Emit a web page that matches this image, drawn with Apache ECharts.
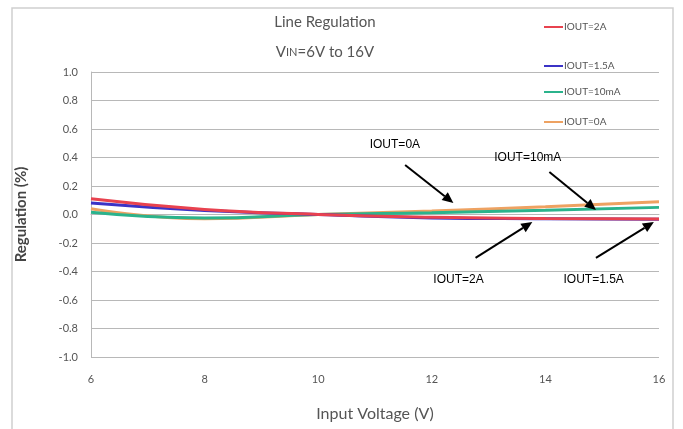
<!DOCTYPE html>
<html>
<head>
<meta charset="utf-8">
<script src="https://cdn.jsdelivr.net/npm/echarts@6/dist/echarts.min.js"></script>
<style>
  html, body { margin: 0; padding: 0; background: #fff; }
  #chart { width: 683px; height: 429px; }
</style>
</head>
<body>
<div id="chart"></div>
<script>
// input voltage (V) and regulation (%)
const vin = [6, 8, 10, 12, 14, 16];
const reg2A = [0.11, 0.035, 0.0, -0.02, -0.028, -0.032];
const reg1p5A = [0.08, 0.028, 0.0, -0.024, -0.03, -0.034];
const reg10mA = [0.015, -0.025, 0.0, 0.012, 0.03, 0.05];
const reg0A = [0.04, -0.03, 0.0, 0.025, 0.055, 0.09];

const seriesNames = ['IOUT=2A', 'IOUT=1.5A', 'IOUT=10mA', 'IOUT=0A'];
const seriesColors = ['#e8424f', '#3b33c6', '#2bb38c', '#eea262'];
const legendTops = [17, 56, 82, 112];

// callouts: text position and arrow (from -> to) in data coordinates
const notes = [
  { text: 'IOUT=0A', at: [11.35, 0.49], from: [11.53, 0.347], to: [12.38, 0.081] },
  { text: 'IOUT=10mA', at: [13.69, 0.40], from: [14.07, 0.298], to: [14.89, 0.032] },
  { text: 'IOUT=2A', at: [12.47, -0.46], from: [12.77, -0.305], to: [13.77, -0.053] },
  { text: 'IOUT=1.5A', at: [14.85, -0.46], from: [14.89, -0.305], to: [15.91, -0.053] }
];

const pair = (xs, ys) => xs.map((x, i) => [x, ys[i]]);
const allValues = [reg2A, reg1p5A, reg10mA, reg0A];

const chart = echarts.init(document.getElementById('chart'));
const grey = '#555';
const font = 'Lato, "Open Sans", sans-serif';

chart.setOption({
  animation: false,
  title: {
    text: 'Line Regulation\n{n|V}{s|IN}{n|=6V to 16V}',
    left: 320,
    top: 2,
    textAlign: 'center',
    textStyle: {
      fontFamily: font, fontSize: 15, fontWeight: 'normal', color: grey, lineHeight: 30,
      rich: {
        n: { fontFamily: font, fontSize: 15, color: grey },
        s: { fontFamily: font, fontSize: 11, color: grey }
      }
    }
  },
  legend: seriesNames.map((name, i) => ({
    data: [name],
    left: 539,
    top: legendTops[i],
    icon: 'rect',
    itemWidth: 19,
    itemHeight: 2,
    itemGap: 0,
    textStyle: { fontFamily: font, fontSize: 10, color: grey, padding: [0, 0, 0, -4] }
  })),
  grid: { left: 91, right: 24, top: 72, bottom: 72, outerBoundsMode: 'none' },
  xAxis: {
    type: 'value',
    min: 6, max: 16, interval: 2,
    name: 'Input Voltage (V)',
    nameLocation: 'middle',
    nameGap: 49,
    nameTextStyle: { fontFamily: font, fontSize: 16, color: grey },
    axisLine: { show: true, lineStyle: { color: '#b8b8b8' } },
    axisTick: { show: false },
    splitLine: { show: false },
    axisLabel: { fontFamily: font, fontSize: 11, color: grey, margin: 17 }
  },
  yAxis: {
    type: 'value',
    min: -1, max: 1, interval: 0.2,
    name: 'Regulation (%)',
    nameLocation: 'middle',
    nameGap: 62,
    nameTextStyle: { fontFamily: font, fontSize: 15, fontWeight: 'bold', color: '#444' },
    axisLine: { show: true, lineStyle: { color: '#b8b8b8' } },
    axisTick: { show: false },
    splitLine: { lineStyle: { color: '#b8b8b8', width: 1 } },
    axisLabel: { fontFamily: font, fontSize: 11, color: grey, margin: 13, formatter: v => v.toFixed(1) }
  },
  series: seriesNames.map((name, i) => ({
    name: name,
    type: 'line',
    data: pair(vin, allValues[i]),
    smooth: true,
    symbol: 'none',
    color: seriesColors[i],
    lineStyle: { width: 3, color: seriesColors[i] },
    z: 10 - i
  }))
});

// frame plus callout arrows and labels, placed through the chart's own scales
const px = p => chart.convertToPixel({ gridIndex: 0 }, p);
const graphics = [{
  type: 'rect',
  shape: { x: 12, y: 8, width: 661, height: 440 },
  style: { fill: 'none', stroke: '#cfcfcf', lineWidth: 1.5 },
  silent: true
}];
notes.forEach(n => {
  const a = px(n.from), b = px(n.to), t = px(n.at);
  const ang = Math.atan2(b[1] - a[1], b[0] - a[0]);
  const L = 11, W = 5;
  const bx = b[0] - L * Math.cos(ang), by = b[1] - L * Math.sin(ang);
  graphics.push({
    type: 'line',
    shape: { x1: a[0], y1: a[1], x2: bx, y2: by },
    style: { stroke: '#000', lineWidth: 2 },
    z: 20
  });
  graphics.push({
    type: 'polygon',
    shape: { points: [
      [b[0], b[1]],
      [bx + W * Math.sin(ang), by - W * Math.cos(ang)],
      [bx - W * Math.sin(ang), by + W * Math.cos(ang)]
    ] },
    style: { fill: '#000' },
    z: 20
  });
  graphics.push({
    type: 'text',
    x: t[0], y: t[1],
    style: { text: n.text, fill: '#000', font: '12px "Liberation Sans", Arial, sans-serif', align: 'center', verticalAlign: 'middle' },
    z: 20
  });
});
chart.setOption({ graphic: graphics });
</script>
</body>
</html>
